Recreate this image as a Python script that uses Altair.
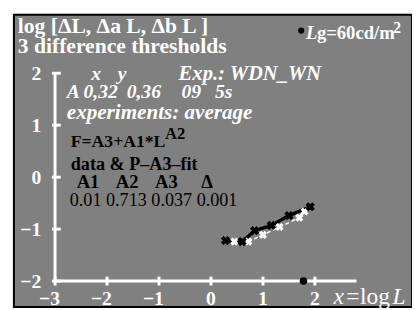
import altair as alt
import pandas as pd

# ---- data ----
x_ticks = [-3, -2, -1, 0, 1, 2]
x_tick_labels = ["\u22123", "\u22122", "\u22121", "0", "1", "2"]
y_ticks = [-2, -1, 0, 1, 2]
y_tick_labels = ["\u22122", "\u22121", "0", "1", "2"]

fit_logL = [0.28, 0.60, 0.84, 1.16, 1.50, 1.91]
fit_logT = [-1.22, -1.24, -1.03, -0.93, -0.74, -0.57]
data_logL = [0.45, 0.72, 1.00, 1.32, 1.70, 1.80]
data_logT = [-1.24, -1.24, -1.11, -0.96, -0.78, -0.66]
adapt_logL = [1.78]
adapt_y = [-2.0]

FONT = "Liberation Serif"
GRAY = "#808080"
OX, OY = 14, 12  # plot origin on page

xs = alt.Scale(domain=[-3.792, 3.868], nice=False, zero=False)
ys = alt.Scale(domain=[-2.5, 3.123], nice=False, zero=False)


def X(f="x"):
    return alt.X(f"{f}:Q", scale=xs, axis=None)


def Y(f="y"):
    return alt.Y(f"{f}:Q", scale=ys, axis=None)


def label(txt, px, py, size=20, color="white", weight="bold", style="normal",
          align="left", baseline="alphabetic"):
    return alt.Chart(pd.DataFrame({"t": [txt]})).mark_text(
        align=align, baseline=baseline, font=FONT, fontSize=size,
        fontWeight=weight, fontStyle=style, color=color
    ).encode(x=alt.value(px - OX), y=alt.value(py - OY), text="t:N")


# axes lines
yaxis = alt.Chart(pd.DataFrame({"x": [-3], "y": [-2], "y2": [2]})).mark_rule(
    color="white", strokeWidth=3).encode(x=X(), y=Y(), y2="y2:Q")
xaxis = alt.Chart(pd.DataFrame({"x": [-3], "x2": [2.8], "y": [-2]})).mark_rule(
    color="white", strokeWidth=3).encode(x=X(), x2="x2:Q", y=Y())

ytick_df = pd.DataFrame({"y": y_ticks, "lab": y_tick_labels})
ytick_df["x"] = -3.06
ytick_df["x2"] = -2.89
ytick_df["xl"] = -3.0
yticks = alt.Chart(ytick_df).mark_rule(color="white", strokeWidth=3).encode(
    x=X(), x2="x2:Q", y=Y())
ylabels = alt.Chart(ytick_df).mark_text(
    align="right", baseline="middle", font=FONT, fontSize=20, fontWeight="bold",
    color="white", dx=-14, dy=1).encode(x=X("xl"), y=Y(), text="lab:N")

xtick_df = pd.DataFrame({"x": x_ticks, "lab": x_tick_labels})
xtick_df["y"] = -2.085
xtick_df["y2"] = -1.915
xtick_df["yl"] = -2.0
xticks = alt.Chart(xtick_df).mark_rule(color="white", strokeWidth=3).encode(
    x=X(), y=Y(), y2="y2:Q")
xlabels = alt.Chart(xtick_df).mark_text(
    align="right", baseline="alphabetic", font=FONT, fontSize=20, fontWeight="bold",
    color="white", dx=5, dy=24).encode(x=X(), y=Y("yl"), text="lab:N")

# data
fit_df = pd.DataFrame({"x": fit_logL, "y": fit_logT})
dat_df = pd.DataFrame({"x": data_logL, "y": data_logT})

white_line = alt.Chart(dat_df).mark_line(
    color="white", strokeWidth=1.5, strokeDash=[4, 3]).encode(x=X(), y=Y())
white_pts = alt.Chart(dat_df).mark_point(
    shape="cross", angle=45, filled=True, color="white", size=70, opacity=1
).encode(x=X(), y=Y())
black_line = alt.Chart(fit_df).mark_line(color="black", strokeWidth=3.5).encode(
    x=X(), y=Y())
black_pts = alt.Chart(fit_df).mark_point(
    shape="cross", angle=45, filled=True, color="black", size=90, opacity=1
).encode(x=X(), y=Y())

adapt = alt.Chart(pd.DataFrame({"x": adapt_logL, "y": adapt_y})).mark_point(
    shape="circle", filled=True, color="black", size=60, opacity=1
).encode(x=X(), y=Y())

legend_dot = alt.Chart(pd.DataFrame({"t": ["dot"]})).mark_point(
    shape="circle", filled=True, color="black", size=40, opacity=1
).encode(x=alt.value(307 - OX), y=alt.value(28 - OY))

texts = [
    label("log [\u0394L,  \u0394a L, \u0394b L ]", 18, 30, size=22),
    label("3 difference thresholds", 18, 51, size=22),
    label("x", 93, 78, style="italic"),
    label("y", 120, 78, style="italic"),
    label("Exp.: WDN_WN", 182, 78, size=21, style="italic"),
    label("A", 68, 97, style="italic"),
    label("0,32", 85, 97, style="italic"),
    label("0,36", 129, 97, style="italic"),
    label("09", 185, 97, style="italic"),
    label("5s", 219, 97, style="italic"),
    label("experiments: average", 68, 118, size=21.5, style="italic"),
    label("F=A3+A1*L", 72, 147, size=18, color="black"),
    label("A2", 168, 139, size=17, color="black"),
    label("data & P\u2013A3\u2013fit", 72, 170, size=18.5, color="black"),
    label("A1", 78, 189, size=19, color="black"),
    label("A2", 118, 189, size=19, color="black"),
    label("A3", 158, 189, size=19, color="black"),
    label("\u0394", 205, 189, size=19, color="black"),
    label("0.01 0.713 0.037 0.001", 71, 207, size=18.5, color="black", weight="normal"),
    label("L", 312, 37, size=19, style="italic"),
    label("g=60cd/m", 323, 37, size=19),
    label("2", 401, 30, size=16),
    label("x", 340, 307, size=24, style="italic", weight="normal"),
    label("=", 353, 307, size=24, weight="normal"),
    label("log", 367, 307, size=24, weight="normal"),
    label("L", 400, 307, size=24, style="italic", weight="normal"),
]

chart = alt.layer(
    yaxis, xaxis, yticks, xticks, ylabels, xlabels,
    white_line, black_line, white_pts, black_pts, adapt, legend_dot, *texts
).properties(
    width=406, height=298,
    autosize=alt.AutoSizeParams(type="none"),
    padding={"left": 6, "top": 4, "right": 0, "bottom": 0},
    background="white",
).configure_view(fill=GRAY, stroke="black", strokeWidth=2)

chart.save("out.html", embed_options={"renderer": "svg", "actions": False})
